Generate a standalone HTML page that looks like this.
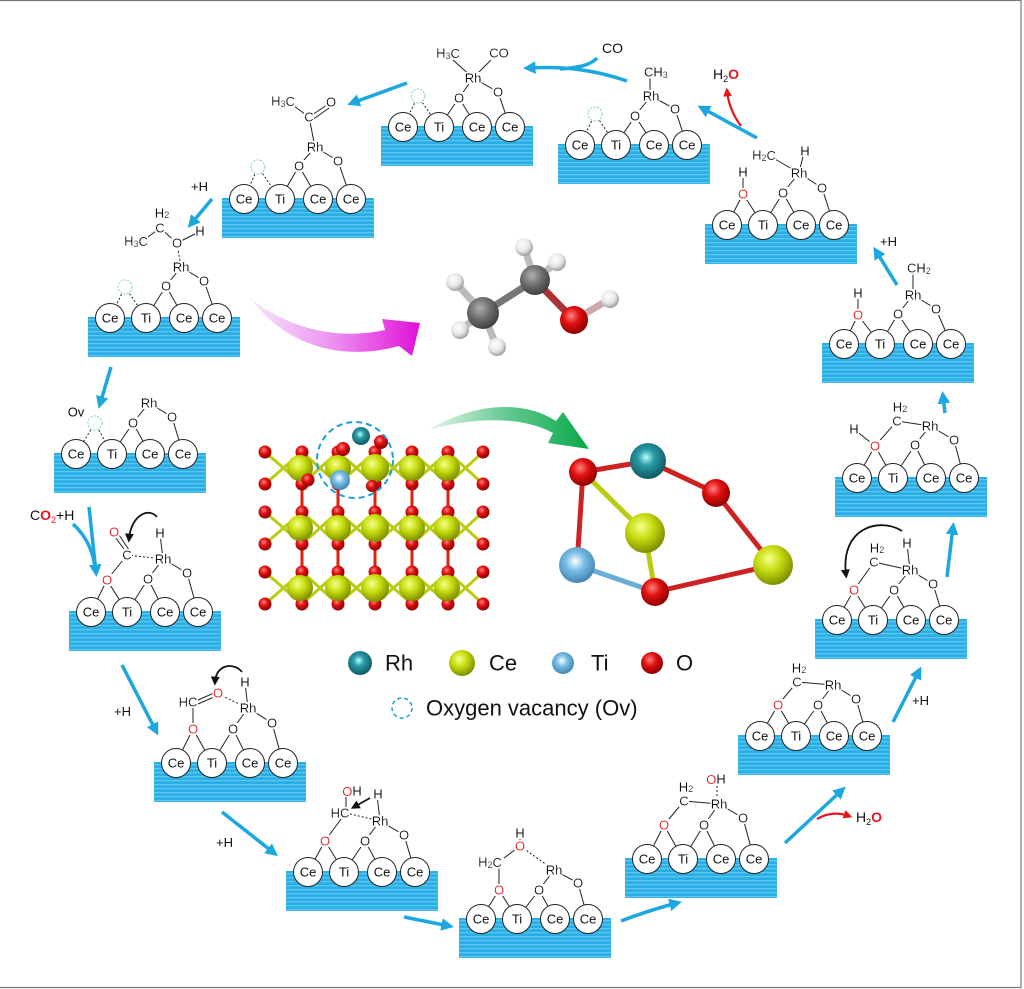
<!DOCTYPE html>
<html><head><meta charset="utf-8"><style>
html,body{margin:0;padding:0;background:#fff}
svg{display:block}
.c{fill:#fff;stroke:#222;stroke-width:1}
.l{font-family:"Liberation Sans",sans-serif;font-size:13px;text-anchor:middle;dominant-baseline:central;fill:#111;filter:url(#bg)}
.s{font-family:"Liberation Sans",sans-serif;font-size:13px;text-anchor:middle;dominant-baseline:central;fill:#111}
.r{fill:#e8141c}
.b{stroke:#222;stroke-width:1;fill:none}
.d{stroke:#222;stroke-width:1;fill:none;stroke-dasharray:2 2}
.v{fill:#fff;stroke:#7cc;stroke-width:1;stroke-dasharray:2 1.5}
.ar{stroke:#1ca7e0;stroke-width:3.5;fill:none;marker-end:url(#mb)}
.rd{stroke:#e8141c;stroke-width:2.2;fill:none;marker-end:url(#mr)}
.bk{stroke:#111;stroke-width:1.8;fill:none;marker-end:url(#mk)}
.lg{font-family:"Liberation Sans",sans-serif;font-size:22px;fill:#111;dominant-baseline:central}
</style></head><body>
<svg width="1024" height="989" viewBox="0 0 1024 989" xmlns="http://www.w3.org/2000/svg">
<defs>
<filter id="bg" x="0" y="0.12" width="1" height="0.76">
<feFlood flood-color="#fff"/>
<feComposite in="SourceGraphic"/>
</filter>
<pattern id="st" width="8" height="4" patternUnits="userSpaceOnUse"><rect width="8" height="4" fill="#2aaee6"/><rect y="2" width="8" height="1.3" fill="#5cc6f0"/></pattern>
<marker id="mb" viewBox="0 0 10 10" refX="6" refY="5" markerWidth="3.6" markerHeight="3.6" orient="auto"><path d="M0,0L10,5L0,10z" fill="#1ca7e0"/></marker>
<marker id="mr" viewBox="0 0 10 10" refX="6" refY="5" markerWidth="4" markerHeight="4" orient="auto"><path d="M0,0L10,5L0,10z" fill="#e8141c"/></marker>
<marker id="mk" viewBox="0 0 10 10" refX="6" refY="5" markerWidth="5" markerHeight="5" orient="auto"><path d="M0,0L10,5L0,10z" fill="#111"/></marker>
<radialGradient id="gCe" cx="40%" cy="35%" r="65%"><stop offset="0" stop-color="#f4ff90"/><stop offset=".45" stop-color="#c8de10"/><stop offset="1" stop-color="#7f9000"/></radialGradient>
<radialGradient id="gO" cx="40%" cy="35%" r="65%"><stop offset="0" stop-color="#ff8080"/><stop offset=".45" stop-color="#e01010"/><stop offset="1" stop-color="#900000"/></radialGradient>
<radialGradient id="gRh" cx="45%" cy="40%" r="65%"><stop offset="0" stop-color="#b0ffff"/><stop offset=".35" stop-color="#2a9aa6"/><stop offset="1" stop-color="#0d5058"/></radialGradient>
<radialGradient id="gTi" cx="45%" cy="40%" r="65%"><stop offset="0" stop-color="#ffffff"/><stop offset=".4" stop-color="#78bde6"/><stop offset="1" stop-color="#3a7ea8"/></radialGradient>
<radialGradient id="gC" cx="40%" cy="35%" r="65%"><stop offset="0" stop-color="#b0b0b0"/><stop offset=".5" stop-color="#707070"/><stop offset="1" stop-color="#404040"/></radialGradient>
<radialGradient id="gH" cx="40%" cy="35%" r="65%"><stop offset="0" stop-color="#ffffff"/><stop offset=".6" stop-color="#e6e6e6"/><stop offset="1" stop-color="#a0a0a0"/></radialGradient>
<linearGradient id="gm" x1="0" y1="0" x2="1" y2="0"><stop offset="0" stop-color="#f6eafa"/><stop offset=".5" stop-color="#ec8ef0"/><stop offset="1" stop-color="#e010d8"/></linearGradient>
<linearGradient id="gg" x1="0" y1="0" x2="1" y2="0"><stop offset="0" stop-color="#e6f6ea"/><stop offset=".5" stop-color="#60c890"/><stop offset="1" stop-color="#0aa848"/></linearGradient>
</defs>
<rect x="-2" y="0.5" width="1023" height="987" fill="none" stroke="#777" stroke-width="1.2"/>

<!-- U14 Ov -->
<g transform="translate(54,453)">
<rect width="152" height="40" fill="url(#st)"/>
<path class="d" d="M41-30L22 1M41-30L58 1"/>
<path class="b" d="M79-30L58 1M79-30L96 1M79-30L95-50L118-36L129 1"/>
<circle class="c" cx="22" cy="1" r="14.5"/><circle class="c" cx="58" cy="1" r="14.5"/><circle class="c" cx="96" cy="1" r="14.5"/><circle class="c" cx="129" cy="1" r="14.5"/>
<text class="s" x="22" y="1">Ce</text><text class="s" x="58" y="1">Ti</text><text class="s" x="96" y="1">Ce</text><text class="s" x="129" y="1">Ce</text>
<circle class="v" cx="41" cy="-30" r="7"/>
<text class="l" x="79" y="-30">O</text><text class="l" x="95" y="-50">Rh</text><text class="l" x="118" y="-36">O</text>
<text class="s" x="22" y="-41">Ov</text>
</g>

<!-- U15 ethanol -->
<g transform="translate(88,317)">
<rect width="152" height="40" fill="url(#st)"/>
<path class="d" d="M37-30L22 1M37-30L58 1M89-74L93-50"/>
<path class="b" d="M78-31L58 1M78-31L96 1M78-31L93-50L116-36L129 1M89-74L111-85M89-74L72-89L60-80"/>
<circle class="c" cx="22" cy="1" r="14.5"/><circle class="c" cx="58" cy="1" r="14.5"/><circle class="c" cx="96" cy="1" r="14.5"/><circle class="c" cx="129" cy="1" r="14.5"/>
<text class="s" x="22" y="1">Ce</text><text class="s" x="58" y="1">Ti</text><text class="s" x="96" y="1">Ce</text><text class="s" x="129" y="1">Ce</text>
<circle class="v" cx="37" cy="-30" r="7"/>
<text class="l" x="78" y="-31">O</text><text class="l" x="93" y="-50">Rh</text><text class="l" x="116" y="-36">O</text>
<text class="l" x="89" y="-74">O</text><text class="l" x="112" y="-86">H</text><text class="l" x="72" y="-89">C</text>
<text class="l" x="74" y="-104">H<tspan font-size="9" dy="2">2</tspan></text>
<text class="l" x="48" y="-76">H<tspan font-size="9" dy="3">3</tspan><tspan dy="-3">C</tspan></text>
</g>

<!-- U1 acyl -->
<g transform="translate(222,198)">
<rect width="152" height="40" fill="url(#st)"/>
<path class="d" d="M36-31L22 1M36-31L58 1"/>
<path class="b" d="M77-32L58 1M77-32L96 1M77-32L93-51L116-37L129 1M93-51L87-81L72-92M87-81L108-95M90-78L110-92"/>
<circle class="c" cx="22" cy="1" r="14.5"/><circle class="c" cx="58" cy="1" r="14.5"/><circle class="c" cx="96" cy="1" r="14.5"/><circle class="c" cx="129" cy="1" r="14.5"/>
<text class="s" x="22" y="1">Ce</text><text class="s" x="58" y="1">Ti</text><text class="s" x="96" y="1">Ce</text><text class="s" x="129" y="1">Ce</text>
<circle class="v" cx="36" cy="-31" r="7"/>
<text class="l" x="77" y="-32">O</text><text class="l" x="93" y="-51">Rh</text><text class="l" x="116" y="-37">O</text>
<text class="l" x="87" y="-81">C</text><text class="l" x="109" y="-96">O</text>
<text class="l" x="61" y="-97">H<tspan font-size="9" dy="3">3</tspan><tspan dy="-3">C</tspan></text>
</g>

<!-- U2 -->
<g transform="translate(381,126)">
<rect width="152" height="40" fill="url(#st)"/>
<path class="d" d="M37-30L22 1M37-30L58 1"/>
<path class="b" d="M78-28L58 1M78-28L96 1M78-28L92-48L117-34L129 1M92-48L72-66M92-48L110-66"/>
<circle class="c" cx="22" cy="1" r="14.5"/><circle class="c" cx="58" cy="1" r="14.5"/><circle class="c" cx="96" cy="1" r="14.5"/><circle class="c" cx="129" cy="1" r="14.5"/>
<text class="s" x="22" y="1">Ce</text><text class="s" x="58" y="1">Ti</text><text class="s" x="96" y="1">Ce</text><text class="s" x="129" y="1">Ce</text>
<circle class="v" cx="37" cy="-30" r="7"/>
<text class="l" x="78" y="-28">O</text><text class="l" x="92" y="-48">Rh</text><text class="l" x="117" y="-34">O</text>
<text class="l" x="67" y="-73">H<tspan font-size="9" dy="3">3</tspan><tspan dy="-3">C</tspan></text>
<text class="l" x="118" y="-73">CO</text>
</g>

<!-- U3 -->
<g transform="translate(558,144)">
<rect width="152" height="40" fill="url(#st)"/>
<path class="d" d="M37-30L22 1M37-30L58 1"/>
<path class="b" d="M77-28L58 1M77-28L96 1M77-28L93-48L117-35L129 1M92-48L92-68"/>
<circle class="c" cx="22" cy="1" r="14.5"/><circle class="c" cx="58" cy="1" r="14.5"/><circle class="c" cx="96" cy="1" r="14.5"/><circle class="c" cx="129" cy="1" r="14.5"/>
<text class="s" x="22" y="1">Ce</text><text class="s" x="58" y="1">Ti</text><text class="s" x="96" y="1">Ce</text><text class="s" x="129" y="1">Ce</text>
<circle class="v" cx="37" cy="-30" r="7"/>
<text class="l" x="77" y="-28">O</text><text class="l" x="93" y="-48">Rh</text><text class="l" x="117" y="-35">O</text>
<text class="l" x="86" y="-72" style="text-anchor:start">CH<tspan font-size="9" dy="3">3</tspan></text>
</g>

<!-- U4 -->
<g transform="translate(705,224)">
<rect width="152" height="40" fill="url(#st)"/>
<path class="b" d="M38-30L22 1M38-30L58 1M38-30L38-51M78-31L58 1M78-31L96 1M78-31L94-51L117-36L129 1M94-51L68-66M94-51L99-72"/>
<circle class="c" cx="22" cy="1" r="14.5"/><circle class="c" cx="58" cy="1" r="14.5"/><circle class="c" cx="96" cy="1" r="14.5"/><circle class="c" cx="129" cy="1" r="14.5"/>
<text class="s" x="22" y="1">Ce</text><text class="s" x="58" y="1">Ti</text><text class="s" x="96" y="1">Ce</text><text class="s" x="129" y="1">Ce</text>
<text class="l r" x="38" y="-30">O</text><text class="l" x="38" y="-52">H</text>
<text class="l" x="78" y="-31">O</text><text class="l" x="94" y="-51">Rh</text><text class="l" x="117" y="-36">O</text>
<text class="l" x="59" y="-69">H<tspan font-size="9" dy="3">2</tspan><tspan dy="-3">C</tspan></text>
<text class="l" x="100" y="-73">H</text>
</g>

<!-- U5 -->
<g transform="translate(822,343)">
<rect width="152" height="40" fill="url(#st)"/>
<path class="b" d="M36-28L22 1M36-28L58 1M36-28L36-49M76-29L58 1M76-29L96 1M76-29L91-48L114-34L129 1M91-48L91-70"/>
<circle class="c" cx="22" cy="1" r="14.5"/><circle class="c" cx="58" cy="1" r="14.5"/><circle class="c" cx="96" cy="1" r="14.5"/><circle class="c" cx="129" cy="1" r="14.5"/>
<text class="s" x="22" y="1">Ce</text><text class="s" x="58" y="1">Ti</text><text class="s" x="96" y="1">Ce</text><text class="s" x="129" y="1">Ce</text>
<text class="l r" x="36" y="-28">O</text><text class="l" x="36" y="-50">H</text>
<text class="l" x="76" y="-29">O</text><text class="l" x="91" y="-48">Rh</text><text class="l" x="114" y="-34">O</text>
<text class="l" x="85" y="-75" style="text-anchor:start">CH<tspan font-size="9" dy="3">2</tspan></text>
</g>

<!-- U6 -->
<g transform="translate(835,477)">
<rect width="152" height="40" fill="url(#st)"/>
<path class="b" d="M40-31L22 1M40-31L58 1M40-31L20-47M80-32L58 1M80-32L96 1M80-32L95-51L119-37L129 1M40-31L62-56L95-51"/>
<circle class="c" cx="22" cy="1" r="14.5"/><circle class="c" cx="58" cy="1" r="14.5"/><circle class="c" cx="96" cy="1" r="14.5"/><circle class="c" cx="129" cy="1" r="14.5"/>
<text class="s" x="22" y="1">Ce</text><text class="s" x="58" y="1">Ti</text><text class="s" x="96" y="1">Ce</text><text class="s" x="129" y="1">Ce</text>
<text class="l r" x="40" y="-31">O</text><text class="l" x="19" y="-48">H</text>
<text class="l" x="80" y="-32">O</text><text class="l" x="95" y="-51">Rh</text><text class="l" x="119" y="-37">O</text>
<text class="l" x="62" y="-56">C</text><text class="l" x="65" y="-70">H<tspan font-size="9" dy="2">2</tspan></text>
</g>

<!-- U7 -->
<g transform="translate(815,619)">
<rect width="152" height="40" fill="url(#st)"/>
<path class="b" d="M39-29L22 1M39-29L58 1M79-29L58 1M79-29L96 1M79-29L95-49L118-35L129 1M39-29L59-57L95-49M95-49L92-75"/>
<circle class="c" cx="22" cy="1" r="14.5"/><circle class="c" cx="58" cy="1" r="14.5"/><circle class="c" cx="96" cy="1" r="14.5"/><circle class="c" cx="129" cy="1" r="14.5"/>
<text class="s" x="22" y="1">Ce</text><text class="s" x="58" y="1">Ti</text><text class="s" x="96" y="1">Ce</text><text class="s" x="129" y="1">Ce</text>
<text class="l r" x="39" y="-29">O</text>
<text class="l" x="79" y="-29">O</text><text class="l" x="95" y="-49">Rh</text><text class="l" x="118" y="-35">O</text>
<text class="l" x="59" y="-57">C</text><text class="l" x="62" y="-71">H<tspan font-size="9" dy="2">2</tspan></text>
<text class="l" x="92" y="-76">H</text>
<path class="bk" d="M87-88C65-102 25-92 31-44"/>
</g>

<!-- U8 -->
<g transform="translate(738,735)">
<rect width="152" height="40" fill="url(#st)"/>
<path class="b" d="M40-30L22 1M40-30L58 1M80-30L58 1M80-30L96 1M80-30L95-50L118-36L129 1M40-30L59-53L95-50"/>
<circle class="c" cx="22" cy="1" r="14.5"/><circle class="c" cx="58" cy="1" r="14.5"/><circle class="c" cx="96" cy="1" r="14.5"/><circle class="c" cx="129" cy="1" r="14.5"/>
<text class="s" x="22" y="1">Ce</text><text class="s" x="58" y="1">Ti</text><text class="s" x="96" y="1">Ce</text><text class="s" x="129" y="1">Ce</text>
<text class="l r" x="40" y="-30">O</text>
<text class="l" x="80" y="-30">O</text><text class="l" x="95" y="-50">Rh</text><text class="l" x="118" y="-36">O</text>
<text class="l" x="59" y="-53">C</text><text class="l" x="61" y="-67">H<tspan font-size="9" dy="2">2</tspan></text>
</g>

<!-- U9 -->
<g transform="translate(625,858)">
<rect width="152" height="40" fill="url(#st)"/>
<path class="b" d="M39-33L22 1M39-33L58 1M79-33L58 1M79-33L96 1M79-33L94-54L118-40L129 1M39-33L59-57L94-54"/>
<path class="d" d="M92-54L92-76"/>
<circle class="c" cx="22" cy="1" r="14.5"/><circle class="c" cx="58" cy="1" r="14.5"/><circle class="c" cx="96" cy="1" r="14.5"/><circle class="c" cx="129" cy="1" r="14.5"/>
<text class="s" x="22" y="1">Ce</text><text class="s" x="58" y="1">Ti</text><text class="s" x="96" y="1">Ce</text><text class="s" x="129" y="1">Ce</text>
<text class="l r" x="39" y="-33">O</text>
<text class="l" x="79" y="-33">O</text><text class="l" x="94" y="-54">Rh</text><text class="l" x="118" y="-40">O</text>
<text class="l" x="59" y="-57">C</text><text class="l" x="61" y="-71">H<tspan font-size="9" dy="2">2</tspan></text>
<text class="l" x="91" y="-79"><tspan class="r">O</tspan>H</text>
</g>

<!-- U10 -->
<g transform="translate(459,918)">
<rect width="152" height="40" fill="url(#st)"/>
<path class="b" d="M40-28L22 1M40-28L58 1M80-28L58 1M80-28L96 1M80-28L95-48L119-35L129 1M40-28L40-50M45-60L61-72L61-84"/>
<path class="d" d="M61-72L95-48"/>
<circle class="c" cx="22" cy="1" r="14.5"/><circle class="c" cx="58" cy="1" r="14.5"/><circle class="c" cx="96" cy="1" r="14.5"/><circle class="c" cx="129" cy="1" r="14.5"/>
<text class="s" x="22" y="1">Ce</text><text class="s" x="58" y="1">Ti</text><text class="s" x="96" y="1">Ce</text><text class="s" x="129" y="1">Ce</text>
<text class="l r" x="40" y="-28">O</text>
<text class="l" x="80" y="-28">O</text><text class="l" x="95" y="-48">Rh</text><text class="l" x="119" y="-35">O</text>
<text class="l" x="31" y="-56">H<tspan font-size="9" dy="3">2</tspan><tspan dy="-3">C</tspan></text>
<text class="l r" x="61" y="-72">O</text><text class="l" x="61" y="-85">H</text>
</g>

<!-- U11 -->
<g transform="translate(286,871)">
<rect width="152" height="40" fill="url(#st)"/>
<path class="b" d="M39-30L22 1M39-30L58 1M79-30L58 1M79-30L96 1M79-30L94-50L118-36L129 1M39-30L58-56M60-60L60-78M94-50L91-76"/>
<path class="d" d="M60-58L94-50"/>
<circle class="c" cx="22" cy="1" r="14.5"/><circle class="c" cx="58" cy="1" r="14.5"/><circle class="c" cx="96" cy="1" r="14.5"/><circle class="c" cx="129" cy="1" r="14.5"/>
<text class="s" x="22" y="1">Ce</text><text class="s" x="58" y="1">Ti</text><text class="s" x="96" y="1">Ce</text><text class="s" x="129" y="1">Ce</text>
<text class="l r" x="39" y="-30">O</text>
<text class="l" x="79" y="-30">O</text><text class="l" x="94" y="-50">Rh</text><text class="l" x="118" y="-36">O</text>
<text class="l" x="54" y="-58">HC</text>
<text class="l" x="66" y="-80"><tspan class="r">O</tspan>H</text>
<text class="l" x="92" y="-77">H</text>
<path class="bk" d="M84-73L68-64"/>
</g>

<!-- U12 -->
<g transform="translate(154,762)">
<rect width="152" height="40" fill="url(#st)"/>
<path class="b" d="M39-33L22 1M39-33L58 1M79-33L58 1M79-33L96 1M79-33L94-54L118-39L129 1M39-33L39-54M44-62L60-69M44-58L60-65M94-54L91-79"/>
<path class="d" d="M64-68L94-54"/>
<circle class="c" cx="22" cy="1" r="14.5"/><circle class="c" cx="58" cy="1" r="14.5"/><circle class="c" cx="96" cy="1" r="14.5"/><circle class="c" cx="129" cy="1" r="14.5"/>
<text class="s" x="22" y="1">Ce</text><text class="s" x="58" y="1">Ti</text><text class="s" x="96" y="1">Ce</text><text class="s" x="129" y="1">Ce</text>
<text class="l r" x="39" y="-33">O</text>
<text class="l" x="79" y="-33">O</text><text class="l" x="94" y="-54">Rh</text><text class="l" x="118" y="-39">O</text>
<text class="l" x="34" y="-60">HC</text><text class="l r" x="64" y="-69">O</text>
<text class="l" x="91" y="-80">H</text>
<path class="bk" d="M88-90C80-100 62-98 61-80"/>
</g>

<!-- U13 -->
<g transform="translate(69,611)">
<rect width="152" height="40" fill="url(#st)"/>
<path class="b" d="M38-31L22 1M38-31L58 1M79-32L58 1M79-32L96 1M79-32L94-52L118-38L129 1M38-31L58-56M57-59L44-77M60-61L48-79M94-52L91-77"/>
<path class="d" d="M58-56L94-52"/>
<circle class="c" cx="22" cy="1" r="14.5"/><circle class="c" cx="58" cy="1" r="14.5"/><circle class="c" cx="96" cy="1" r="14.5"/><circle class="c" cx="129" cy="1" r="14.5"/>
<text class="s" x="22" y="1">Ce</text><text class="s" x="58" y="1">Ti</text><text class="s" x="96" y="1">Ce</text><text class="s" x="129" y="1">Ce</text>
<text class="l r" x="38" y="-31">O</text>
<text class="l" x="79" y="-32">O</text><text class="l" x="94" y="-52">Rh</text><text class="l" x="118" y="-38">O</text>
<text class="l" x="58" y="-56">C</text><text class="l r" x="45" y="-79">O</text>
<text class="l" x="91" y="-78">H</text>
<path class="bk" d="M88-94C80-104 62-96 60-72"/>
</g>

<!-- blue arrows -->
<path class="ar" d="M627,81C595,70 565,66 528,68"/>
<path d="M597,58C590,66 575,68 560,69" stroke="#1ca7e0" stroke-width="3.5" fill="none"/>
<path class="ar" d="M407,83L352,103"/>
<path class="ar" d="M212,199L191,224"/>
<path class="ar" d="M111,367L100,404"/>
<path class="ar" d="M89,507L96,572"/>
<path d="M73,524C85,535 93,550 95,568" stroke="#1ca7e0" stroke-width="3.5" fill="none"/>
<path class="ar" d="M122,665L156,731"/>
<path class="ar" d="M222,812L274,853"/>
<path class="ar" d="M404,917L449,926"/>
<path class="ar" d="M621,921Q650,910 677,903"/>
<path class="ar" d="M785,843L842,790"/>
<path class="ar" d="M893,722L919,671"/>
<path class="ar" d="M947,577L953,527"/>
<path class="ar" d="M945,413L943,396"/>
<path class="ar" d="M897,285L876,251"/>
<path class="ar" d="M757,138L702,108"/>
<path class="rd" d="M741,126Q729,110 727,91"/>
<path class="rd" d="M817,819Q832,810 849,816"/>

<!-- side labels -->
<g font-family="Liberation Sans, sans-serif" font-size="13" fill="#111">
<text x="191" y="191">+H</text>
<text x="880" y="246">+H</text>
<text x="912" y="705">+H</text>
<text x="114" y="716">+H</text>
<text x="216" y="847">+H</text>
<text x="602" y="53" font-size="14">CO</text>
<text x="713" y="79" font-size="14">H<tspan font-size="9" dy="3">2</tspan><tspan dy="-3" fill="#e8141c" font-weight="bold">O</tspan></text>
<text x="856" y="822" font-size="14">H<tspan font-size="9" dy="3">2</tspan><tspan dy="-3" fill="#e8141c" font-weight="bold">O</tspan></text>
<text x="30" y="520" font-size="14">C<tspan fill="#e8141c" font-weight="bold">O</tspan><tspan fill="#e8141c" font-size="9" dy="3">2</tspan><tspan dy="-3">+H</tspan></text>
</g>

<!-- magenta and green arrows -->
<path d="M250,298C290,330 340,340 385,330L382,319L420,323L412,356L399,346C340,362 285,345 250,298Z" fill="url(#gm)"/>
<path d="M428,430C470,405 520,398 556,421L563,412L589,449L548,443L553,433C520,415 470,418 428,430Z" fill="url(#gg)"/>

<!-- ethanol -->
<g stroke-width="7" stroke-linecap="round">
<line x1="483" y1="313" x2="455" y2="282" stroke="#bbb"/>
<line x1="483" y1="313" x2="460" y2="330" stroke="#bbb"/>
<line x1="483" y1="313" x2="497" y2="347" stroke="#bbb"/>
<line x1="483" y1="313" x2="535" y2="280" stroke="#777"/>
<line x1="535" y1="280" x2="524" y2="247" stroke="#bbb"/>
<line x1="535" y1="280" x2="557" y2="262" stroke="#bbb"/>
<line x1="535" y1="280" x2="574" y2="320" stroke="#a33"/>
<line x1="574" y1="320" x2="610" y2="299" stroke="#caa"/>
</g>
<circle cx="455" cy="282" r="9" fill="url(#gH)"/><circle cx="460" cy="330" r="9" fill="url(#gH)"/><circle cx="497" cy="347" r="9" fill="url(#gH)"/>
<circle cx="524" cy="247" r="9" fill="url(#gH)"/><circle cx="557" cy="262" r="9" fill="url(#gH)"/><circle cx="610" cy="299" r="9" fill="url(#gH)"/>
<circle cx="483" cy="313" r="16" fill="url(#gC)"/><circle cx="535" cy="280" r="15" fill="url(#gC)"/>
<circle cx="574" cy="320" r="14" fill="url(#gO)"/>

<!-- slab -->
<g stroke-width="3" fill="none">
<g stroke="#d21">
<path d="M302,452V604M338,452V604M375,452V604M412,452V604M448,452V604"/>
</g>
<g stroke="#b8cc10">
<path d="M265,452L302,484L338,452L375,484L412,452L448,484L483,452M265,484L302,452L338,484L375,452L412,484L448,452L483,484"/>
<path d="M265,512L302,544L338,512L375,544L412,512L448,544L483,512M265,544L302,512L338,544L375,512L412,544L448,512L483,544"/>
<path d="M265,572L302,604L338,572L375,604L412,572L448,604L483,572M265,604L302,572L338,604L375,572L412,604L448,572L483,604"/>
</g>
</g>
<g fill="url(#gO)">
<circle cx="265" cy="452" r="6.5"/><circle cx="302" cy="452" r="6.5"/><circle cx="338" cy="452" r="6.5"/><circle cx="375" cy="452" r="6.5"/><circle cx="412" cy="452" r="6.5"/><circle cx="448" cy="452" r="6.5"/><circle cx="483" cy="452" r="6.5"/>
<circle cx="265" cy="484" r="6.5"/><circle cx="302" cy="484" r="6.5"/><circle cx="338" cy="484" r="6.5"/><circle cx="375" cy="484" r="6.5"/><circle cx="412" cy="484" r="6.5"/><circle cx="448" cy="484" r="6.5"/><circle cx="483" cy="484" r="6.5"/>
<circle cx="265" cy="512" r="6.5"/><circle cx="302" cy="512" r="6.5"/><circle cx="338" cy="512" r="6.5"/><circle cx="375" cy="512" r="6.5"/><circle cx="412" cy="512" r="6.5"/><circle cx="448" cy="512" r="6.5"/><circle cx="483" cy="512" r="6.5"/>
<circle cx="265" cy="544" r="6.5"/><circle cx="302" cy="544" r="6.5"/><circle cx="338" cy="544" r="6.5"/><circle cx="375" cy="544" r="6.5"/><circle cx="412" cy="544" r="6.5"/><circle cx="448" cy="544" r="6.5"/><circle cx="483" cy="544" r="6.5"/>
<circle cx="265" cy="572" r="6.5"/><circle cx="302" cy="572" r="6.5"/><circle cx="338" cy="572" r="6.5"/><circle cx="375" cy="572" r="6.5"/><circle cx="412" cy="572" r="6.5"/><circle cx="448" cy="572" r="6.5"/><circle cx="483" cy="572" r="6.5"/>
<circle cx="265" cy="604" r="6.5"/><circle cx="302" cy="604" r="6.5"/><circle cx="338" cy="604" r="6.5"/><circle cx="375" cy="604" r="6.5"/><circle cx="412" cy="604" r="6.5"/><circle cx="448" cy="604" r="6.5"/><circle cx="483" cy="604" r="6.5"/>
</g>
<g fill="url(#gCe)">
<circle cx="300" cy="468" r="13"/><circle cx="338" cy="468" r="13"/><circle cx="375" cy="468" r="14"/><circle cx="412" cy="468" r="13"/><circle cx="447" cy="468" r="13"/>
<circle cx="300" cy="528" r="13"/><circle cx="338" cy="528" r="13"/><circle cx="375" cy="528" r="14"/><circle cx="412" cy="528" r="13"/><circle cx="447" cy="528" r="13"/>
<circle cx="300" cy="588" r="13"/><circle cx="338" cy="588" r="13"/><circle cx="375" cy="588" r="14"/><circle cx="412" cy="588" r="13"/><circle cx="447" cy="588" r="13"/>
</g>
<g fill="url(#gO)"><circle cx="343" cy="449" r="7"/><circle cx="381" cy="442" r="7"/><circle cx="308" cy="480" r="6.5"/><circle cx="372" cy="486" r="6"/></g>
<circle cx="361" cy="436" r="9" fill="url(#gRh)"/>
<circle cx="340" cy="480" r="10" fill="url(#gTi)"/>
<circle cx="355" cy="460" r="38" fill="none" stroke="#1aa0d8" stroke-width="2" stroke-dasharray="6 4"/>

<!-- cluster -->
<g stroke-width="5">
<line x1="583" y1="472" x2="648" y2="461" stroke="#c22"/>
<line x1="648" y1="461" x2="716" y2="493" stroke="#c22"/>
<line x1="583" y1="472" x2="577" y2="565" stroke="#c22"/>
<line x1="583" y1="472" x2="645" y2="533" stroke="#b8cc10"/>
<line x1="716" y1="493" x2="773" y2="565" stroke="#c22"/>
<line x1="645" y1="533" x2="655" y2="592" stroke="#b8cc10"/>
<line x1="577" y1="565" x2="655" y2="592" stroke="#6aaed6"/>
<line x1="655" y1="592" x2="773" y2="565" stroke="#c22"/>
</g>
<circle cx="648" cy="461" r="18" fill="url(#gRh)"/>
<circle cx="583" cy="472" r="14" fill="url(#gO)"/>
<circle cx="716" cy="493" r="14" fill="url(#gO)"/>
<circle cx="645" cy="533" r="20" fill="url(#gCe)"/>
<circle cx="577" cy="565" r="18" fill="url(#gTi)"/>
<circle cx="655" cy="592" r="14" fill="url(#gO)"/>
<circle cx="773" cy="565" r="20" fill="url(#gCe)"/>

<!-- legend -->
<circle cx="360" cy="663" r="12" fill="url(#gRh)"/><text class="lg" x="385" y="663">Rh</text>
<circle cx="462" cy="663" r="13" fill="url(#gCe)"/><text class="lg" x="489" y="663">Ce</text>
<circle cx="563" cy="663" r="11" fill="url(#gTi)"/><text class="lg" x="591" y="663">Ti</text>
<circle cx="652" cy="663" r="11" fill="url(#gO)"/><text class="lg" x="676" y="663">O</text>
<circle cx="402" cy="708" r="10" fill="none" stroke="#1aa0d8" stroke-width="1.5" stroke-dasharray="4 3"/>
<text class="lg" x="426" y="708" font-size="21">Oxygen vacancy (Ov)</text>
</svg>
</body></html>
